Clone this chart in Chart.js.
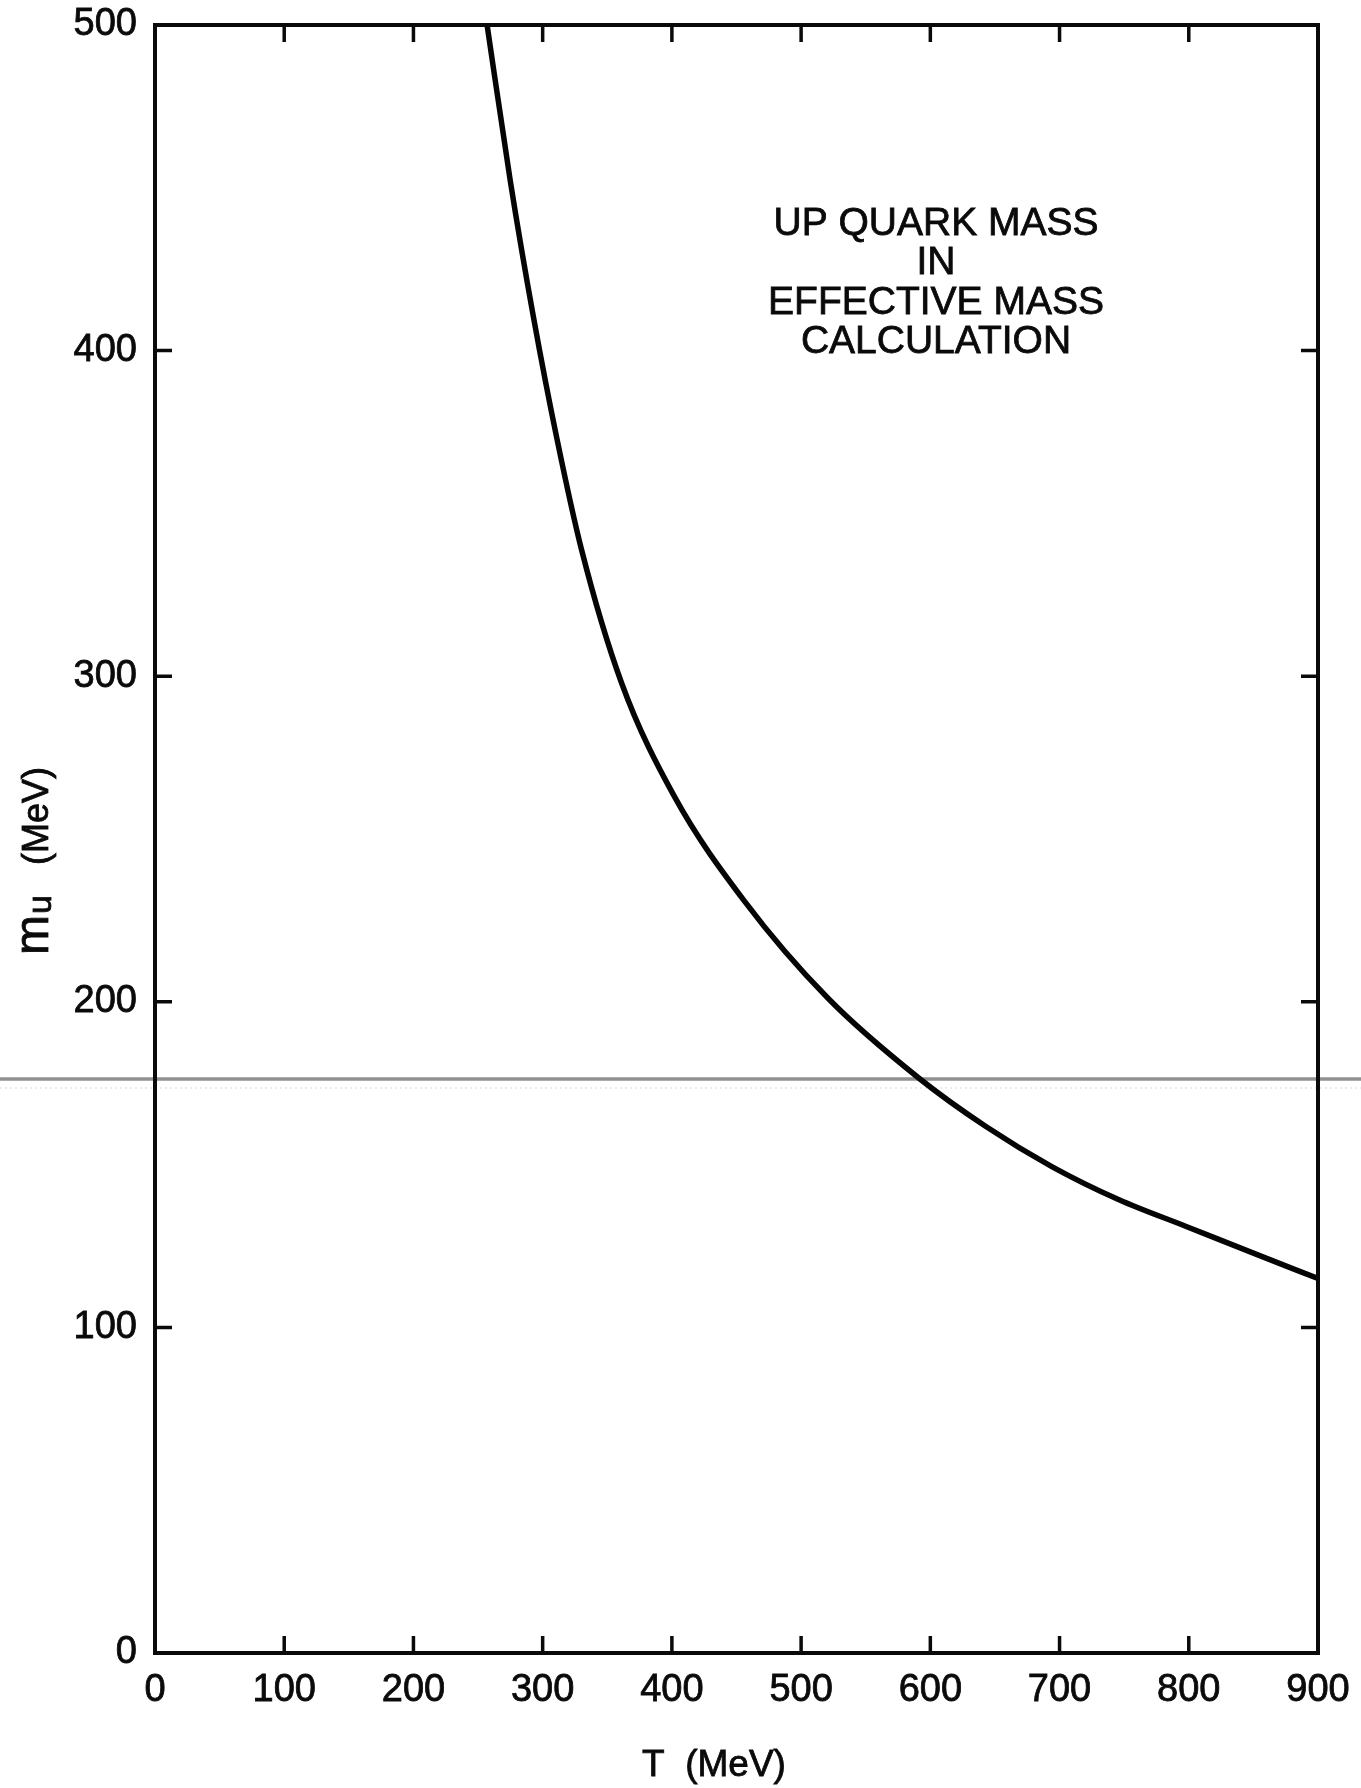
<!DOCTYPE html>
<html>
<head>
<meta charset="utf-8">
<title>Up quark mass</title>
<script src="https://cdn.jsdelivr.net/npm/chart.js@4.4.1/dist/chart.umd.min.js"></script>
<style>
  html, body { margin: 0; padding: 0; background: #fff; }
  #massChart { display: block; }
</style>
</head>
<body>
<canvas id="massChart" width="1361" height="1788"></canvas>
<script>
/**
 * up quark mass m_u against temperature T, effective mass calculation
 */

// temperature T (MeV)
const tempValues = [257, 275, 293, 311, 330, 361, 402, 456, 521, 591, 643, 694, 746, 798, 850, 900];

// up quark mass m_u (MeV)
const massValues = [500, 452, 410, 373, 339, 298, 263, 231, 201, 176.6, 161.7, 149.4, 139.2, 131, 122.8, 115];

// tick positions on both axes
const xTicks = [0, 100, 200, 300, 400, 500, 600, 700, 800, 900];
const yTicks = [0, 100, 200, 300, 400, 500];

// text box in the upper right
const noteLines = ["UP QUARK MASS", "IN", "EFFECTIVE MASS", "CALCULATION"];

const FONT = "'Liberation Sans', Arial, Helvetica, sans-serif";
const INK = "#0a0a0a";

/**
 * @type {HTMLCanvasElement}
 */
const canvas = document.getElementById("massChart");

/**
 * fills a text and runs a thin stroke round it so it prints a bit heavier
 */
function inkText(ctx, text, x, y) {
    ctx.fillText(text, x, y);
    ctx.strokeText(text, x, y);
}

/**
 * frame round the plot with ticks pointing inwards on all four sides
 */
const framePlugin = {
    id: "frame",
    afterDraw(chart) {
        const { ctx, chartArea: a, scales: { x, y } } = chart;
        ctx.save();
        ctx.strokeStyle = INK;
        ctx.lineWidth = 4;
        ctx.strokeRect(a.left, a.top, a.right - a.left, a.bottom - a.top);

        ctx.lineWidth = 3.5;
        ctx.beginPath();
        xTicks.slice(1, -1).forEach(v => {
            const px = x.getPixelForValue(v);
            ctx.moveTo(px, a.bottom);
            ctx.lineTo(px, a.bottom - 17);
            ctx.moveTo(px, a.top);
            ctx.lineTo(px, a.top + 17);
        });
        yTicks.slice(1, -1).forEach(v => {
            const py = y.getPixelForValue(v);
            ctx.moveTo(a.left, py);
            ctx.lineTo(a.left + 17, py);
            ctx.moveTo(a.right, py);
            ctx.lineTo(a.right - 17, py);
        });
        ctx.stroke();
        ctx.restore();
    }
};

/**
 * axis titles and the note text
 */
const textPlugin = {
    id: "texts",
    beforeDatasetsDraw(chart) {
        const { ctx, width } = chart;
        // grey streak running across the sheet
        ctx.save();
        ctx.strokeStyle = "rgba(125,125,125,0.85)";
        ctx.lineWidth = 3.5;
        ctx.beginPath();
        ctx.moveTo(0, 1079);
        ctx.lineTo(width, 1079);
        ctx.stroke();
        ctx.strokeStyle = "rgba(180,180,180,0.5)";
        ctx.lineWidth = 1;
        ctx.setLineDash([2, 3]);
        ctx.beginPath();
        ctx.moveTo(0, 1088);
        ctx.lineTo(width, 1088);
        ctx.stroke();
        ctx.restore();
    },
    afterDraw(chart) {
        const { ctx } = chart;
        ctx.save();
        ctx.fillStyle = INK;
        ctx.strokeStyle = INK;
        ctx.lineWidth = 0.8;

        // x axis title
        ctx.font = "37px " + FONT;
        ctx.textAlign = "center";
        ctx.textBaseline = "middle";
        inkText(ctx, "T  (MeV)", 714, 1766);

        // note lines
        ctx.font = "39px " + FONT;
        noteLines.forEach((line, i) => {
            inkText(ctx, line, 936, 224 + i * 39.5);
        });

        // y axis title with subscript
        ctx.translate(48, 955);
        ctx.rotate(-Math.PI / 2);
        ctx.textAlign = "left";
        ctx.textBaseline = "alphabetic";
        ctx.font = "48px " + FONT;
        inkText(ctx, "m", 0, 0);
        const mW = ctx.measureText("m").width;
        ctx.font = "34px " + FONT;
        inkText(ctx, "u", mW + 1, 3);
        ctx.font = "36px " + FONT;
        inkText(ctx, "(MeV)", 90, 0);
        ctx.restore();
    }
};

const massChart = new Chart(canvas, {
    type: "line",
    data: {
        datasets: [{
            label: "m_u",
            data: tempValues.map((t, i) => ({ x: t, y: massValues[i] })),
            borderColor: "#050505",
            borderWidth: 5.5,
            pointRadius: 0,
            fill: false,
            cubicInterpolationMode: "monotone"
        }]
    },
    options: {
        responsive: false,
        animation: false,
        layout: {
            padding: { top: 25, right: 43, left: 0, bottom: 0 }
        },
        plugins: {
            legend: { display: false },
            tooltip: { enabled: false }
        },
        scales: {
            x: {
                type: "linear",
                min: 0,
                max: 900,
                afterBuildTicks: axis => { axis.ticks = xTicks.map(v => ({ value: v })); },
                afterFit: axis => {
                    axis.height = 135;
                    axis.paddingLeft = 0;
                    axis.paddingRight = 0;
                },
                grid: { display: false },
                border: { display: false },
                ticks: {
                    color: INK,
                    textStrokeColor: INK,
                    textStrokeWidth: 0.8,
                    padding: 7,
                    maxRotation: 0,
                    autoSkip: false,
                    font: { family: FONT, size: 38 }
                }
            },
            y: {
                type: "linear",
                min: 0,
                max: 500,
                afterBuildTicks: axis => { axis.ticks = yTicks.map(v => ({ value: v })); },
                afterFit: axis => {
                    axis.width = 155;
                    axis.paddingTop = 0;
                    axis.paddingBottom = 0;
                },
                grid: { display: false },
                border: { display: false },
                ticks: {
                    color: INK,
                    textStrokeColor: INK,
                    textStrokeWidth: 0.8,
                    padding: 10,
                    autoSkip: false,
                    font: { family: FONT, size: 38 }
                }
            }
        }
    },
    plugins: [textPlugin, framePlugin]
});
</script>
</body>
</html>
